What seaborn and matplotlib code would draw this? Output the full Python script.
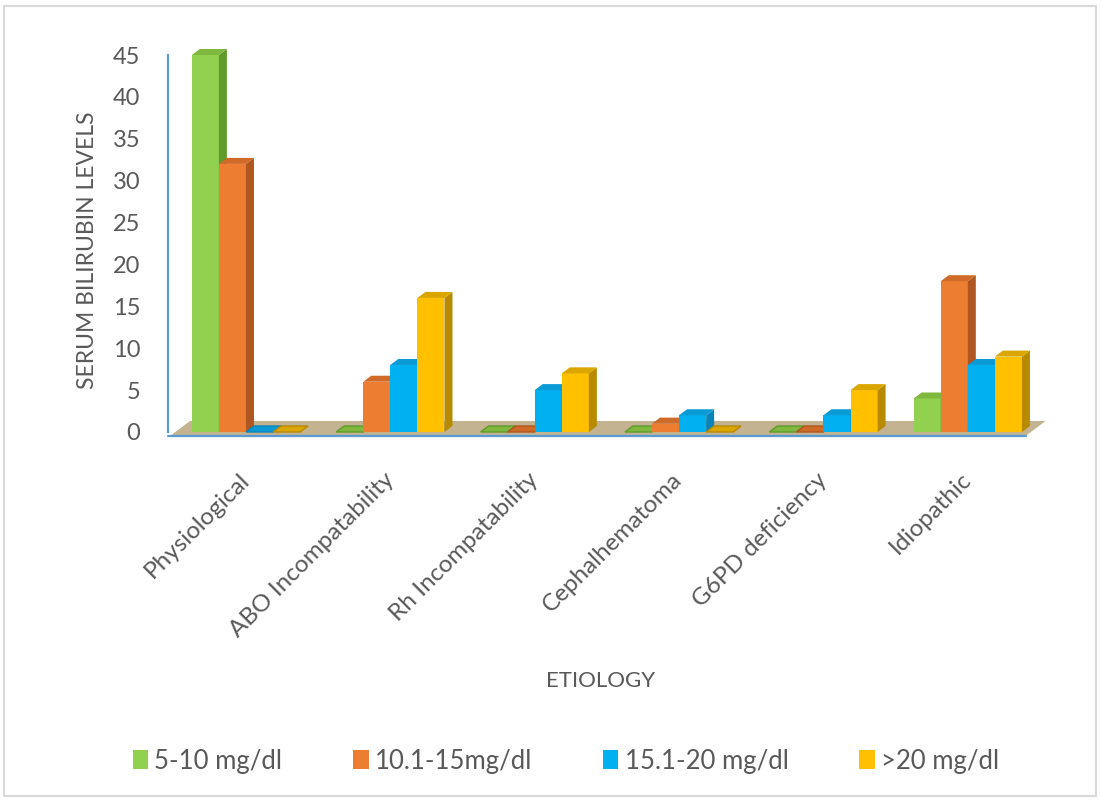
import matplotlib
matplotlib.use("Agg")
import matplotlib.pyplot as plt
from matplotlib.patches import Polygon, Rectangle
from matplotlib.transforms import IdentityTransform
import seaborn as sns
import pandas as pd

# Data
etiology = ["Physiological", "ABO Incompatability", "Rh Incompatability",
            "Cephalhematoma", "G6PD deficiency", "Idiopathic"]
levels = ["5-10 mg/dl", "10.1-15mg/dl", "15.1-20 mg/dl", ">20 mg/dl"]
lvl_5_10 = [45, 0, 0, 0, 0, 4]
lvl_10_15 = [32, 6, 0, 1, 0, 18]
lvl_15_20 = [0, 8, 5, 2, 2, 8]
lvl_gt20 = [0, 16, 7, 0, 5, 9]

front = ["#92d050", "#ed7d31", "#00b0f0", "#ffc000"]
side = ["#5e9a2c", "#b05620", "#0a84b8", "#b88a00"]
topc = ["#7fb83f", "#cf6a28", "#0a9ad4", "#dba600"]

rows = []
for lvl, vals in zip(levels, [lvl_5_10, lvl_10_15, lvl_15_20, lvl_gt20]):
    for cat, v in zip(etiology, vals):
        rows.append({"Etiology": cat, "Level": lvl, "Count": v})
df = pd.DataFrame(rows)

sns.set_theme(style="white")
plt.rcParams["font.family"] = ["Lato", "DejaVu Sans"]
text_col = "#595959"

W, H, DPI = 11.01, 8.0, 100
fig = plt.figure(figsize=(W, H), dpi=DPI)
ax = fig.add_axes([168 / 1101, 368 / 800, 872 / 1101, 377 / 800])

sns.barplot(data=df, x="Etiology", y="Count", hue="Level", order=etiology,
            hue_order=levels, palette=front, width=0.75, gap=0,
            saturation=1, linewidth=0, ax=ax, legend=True)

ax.set_xlim(-0.54, 5.5)
ax.set_ylim(0, 45)
ax.set_yticks(range(0, 46, 5))

# Pseudo-3D faces (side and top) computed from each bar's geometry
DX, DY = 8, 6
fig.canvas.draw()
to_disp = ax.transData.transform
bars = []
for ci, cont in enumerate(ax.containers):
    for p in cont.patches:
        bars.append((p.get_x(), ci, p))
bars.sort(key=lambda b: b[0])
for k, (_, ci, p) in enumerate(bars):
    z = 3 + k * 0.01
    p.set_zorder(z)
    x0, w, h = p.get_x(), p.get_width(), p.get_height()
    (px0, py0) = to_disp((x0, 0))
    (px1, py1) = to_disp((x0 + w, h))
    side_poly = Polygon([(px1, py0), (px1 + DX, py0 + DY), (px1 + DX, py1 + DY), (px1, py1)],
                        closed=True, transform=IdentityTransform(), facecolor=side[ci],
                        edgecolor="none", zorder=z + 0.005, clip_on=False)
    top_poly = Polygon([(px0, py1), (px1, py1), (px1 + DX, py1 + DY), (px0 + DX, py1 + DY)],
                       closed=True, transform=IdentityTransform(), facecolor=topc[ci],
                       edgecolor=side[ci] if h == 0 else "none", linewidth=1,
                       zorder=z + 0.006, clip_on=False)
    ax.add_patch(side_poly)
    ax.add_patch(top_poly)

# Floor of the chart
(lx, by) = to_disp((ax.get_xlim()[0], 0))
(rx, _) = to_disp((5.4, 0))
floor = Polygon([(lx + 2, by - 4), (rx, by - 4), (rx + 20, by + 11), (lx + 22, by + 11)],
                closed=True, transform=IdentityTransform(), facecolor="#c3b391",
                edgecolor="none", zorder=1.5, clip_on=False)
ax.add_patch(floor)
ax.add_line(plt.Line2D([lx, rx], [by - 4, by - 4], transform=IdentityTransform(),
                       color="#5b9bd5", linewidth=1.6, zorder=2.5, clip_on=False))

for s in ["top", "right", "bottom"]:
    ax.spines[s].set_visible(False)
ax.spines["left"].set_color("#5b9bd5")
ax.spines["left"].set_linewidth(1.6)

ax.tick_params(axis="y", length=0, pad=20, labelsize=17, labelcolor=text_col)
ax.tick_params(axis="x", length=0, pad=32, labelsize=17.5, labelcolor=text_col)
for lab in ax.get_xticklabels():
    lab.set_rotation(45)
    lab.set_ha("right")
    lab.set_va("center")
    lab.set_rotation_mode("anchor")

ax.set_xlabel("")
ax.set_ylabel("")
fig.text(601 / 1101, 1 - 681 / 800, "ETIOLOGY", fontsize=16, color=text_col,
         ha="center", va="center")
fig.text(88 / 1101, 1 - 250 / 800, "SERUM BILIRUBIN LEVELS", fontsize=16.5,
         color=text_col, rotation=90, ha="center", va="center")

ax.get_legend().remove()
handles = [Rectangle((0, 0), 1, 1, facecolor=c, edgecolor="none") for c in front]
fig.legend(handles, levels, loc="center", bbox_to_anchor=(566 / 1101, 1 - 761 / 800),
           ncol=4, frameon=False, fontsize=18.5, handlelength=0.6, handleheight=0.75,
           handletextpad=0.25, columnspacing=2.75, labelcolor=text_col)

# Light border around the whole figure
fig.patches.append(Rectangle((4 / 1101, 4 / 800), 1092 / 1101, 790 / 800,
                             transform=fig.transFigure, fill=False,
                             edgecolor="#d9d9d9", linewidth=1.5))

fig.savefig("out.png", dpi=DPI)
